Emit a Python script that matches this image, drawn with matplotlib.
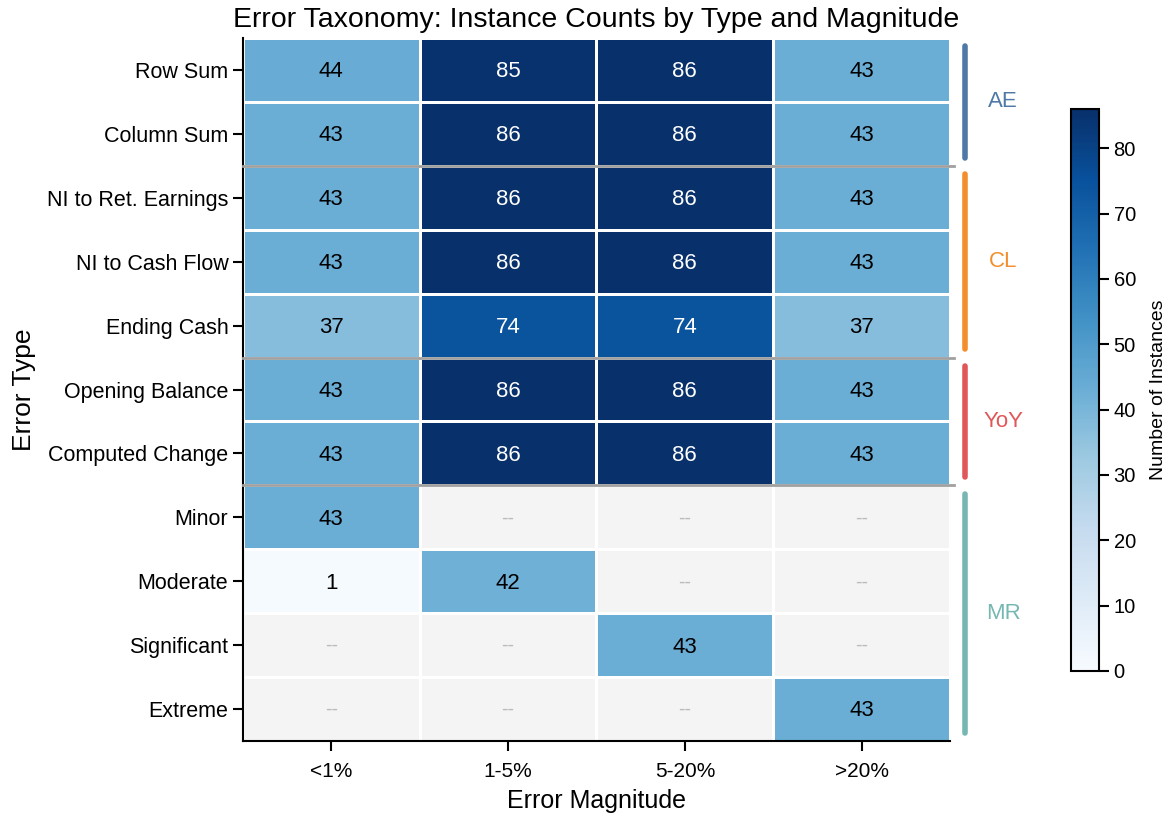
import numpy as np
import matplotlib
matplotlib.use("Agg")
import matplotlib.pyplot as plt
from matplotlib.colors import ListedColormap

plt.rcParams['font.family'] = ['Liberation Sans', 'DejaVu Sans']

error_types = ["Row Sum", "Column Sum", "NI to Ret. Earnings", "NI to Cash Flow",
               "Ending Cash", "Opening Balance", "Computed Change",
               "Minor", "Moderate", "Significant", "Extreme"]
magnitudes = ["<1%", "1-5%", "5-20%", ">20%"]
counts = [
    [44, 85, 86, 43],
    [43, 86, 86, 43],
    [43, 86, 86, 43],
    [43, 86, 86, 43],
    [37, 74, 74, 37],
    [43, 86, 86, 43],
    [43, 86, 86, 43],
    [43, None, None, None],
    [1, 42, None, None],
    [None, None, 43, None],
    [None, None, None, 43],
]
groups = ["AE", "CL", "YoY", "MR"]
group_rows = [(0, 2), (2, 5), (5, 7), (7, 11)]
group_colors = ["#4e79a7", "#f28e2b", "#e15759", "#76b7b2"]

nrow, ncol = len(error_types), len(magnitudes)
vals = np.array([[np.nan if v is None else v for v in r] for r in counts], dtype=float)
data = np.ma.masked_invalid(vals)
missing = np.ma.masked_where(~np.isnan(vals), np.ones_like(vals))

fig = plt.figure(figsize=(11.72, 8.16), dpi=100)
ax = fig.add_axes([0.2073, 0.0919, 0.6033, 0.8615])
cax = fig.add_axes([0.9138, 0.1777, 0.0239, 0.6887])

vmax = 86
ax.pcolormesh(np.arange(ncol + 1), np.arange(nrow + 1), missing,
              cmap=ListedColormap(["#f4f4f4"]), edgecolors="white", linewidth=2)
mesh = ax.pcolormesh(np.arange(ncol + 1), np.arange(nrow + 1), data,
                     cmap="Blues", vmin=0, vmax=vmax, edgecolors="white", linewidth=2)
ax.set_xlim(0, ncol)
ax.set_ylim(nrow, 0)

for i in range(nrow):
    for j in range(ncol):
        v = vals[i, j]
        if np.isnan(v):
            ax.text(j + 0.5, i + 0.5, "--", ha="center", va="center",
                    fontsize=13, color="#bbbbbb", family="DejaVu Sans")
        else:
            ax.text(j + 0.5, i + 0.53, f"{int(v)}", ha="center", va="center",
                    fontsize=16, color="white" if v > 60 else "black")

for b in [2, 5, 7]:
    ax.plot([0, ncol + 0.02], [b, b], color="#a0a0a0", lw=2, clip_on=False, zorder=5)

for name, (s, e), c in zip(groups, group_rows, group_colors):
    ax.plot([1.021 * ncol, 1.021 * ncol], [s + 0.13, e - 0.13], color=c, lw=4,
            solid_capstyle="round", clip_on=False)
    ax.text(1.075 * ncol, (s + e) / 2, name, color=c, fontsize=16,
            ha="center", va="center", clip_on=False)

ax.set_xticks(np.arange(ncol) + 0.5)
ax.set_xticklabels(magnitudes, fontsize=15)
ax.set_yticks(np.arange(nrow) + 0.5)
ax.set_yticklabels(error_types, fontsize=15.5)
ax.tick_params(axis="both", length=7, width=1.5, color="black")
ax.tick_params(axis="x", pad=8)
for sp in ["top", "right"]:
    ax.spines[sp].set_visible(False)
for sp in ["left", "bottom"]:
    ax.spines[sp].set_linewidth(1.5)
ax.set_xlabel("Error Magnitude", fontsize=18, labelpad=6)
ax.set_ylabel("Error Type", fontsize=19, labelpad=8)
ax.set_title("Error Taxonomy: Instance Counts by Type and Magnitude", fontsize=20.5, pad=8)

cb = fig.colorbar(mesh, cax=cax)
cb.set_ticks([0, 10, 20, 30, 40, 50, 60, 70, 80])
cb.ax.tick_params(labelsize=14.5, length=7, width=1.5)
cb.outline.set_linewidth(1.5)
cb.set_label("Number of Instances", fontsize=14, labelpad=10)

fig.savefig("out.png", dpi=100)
